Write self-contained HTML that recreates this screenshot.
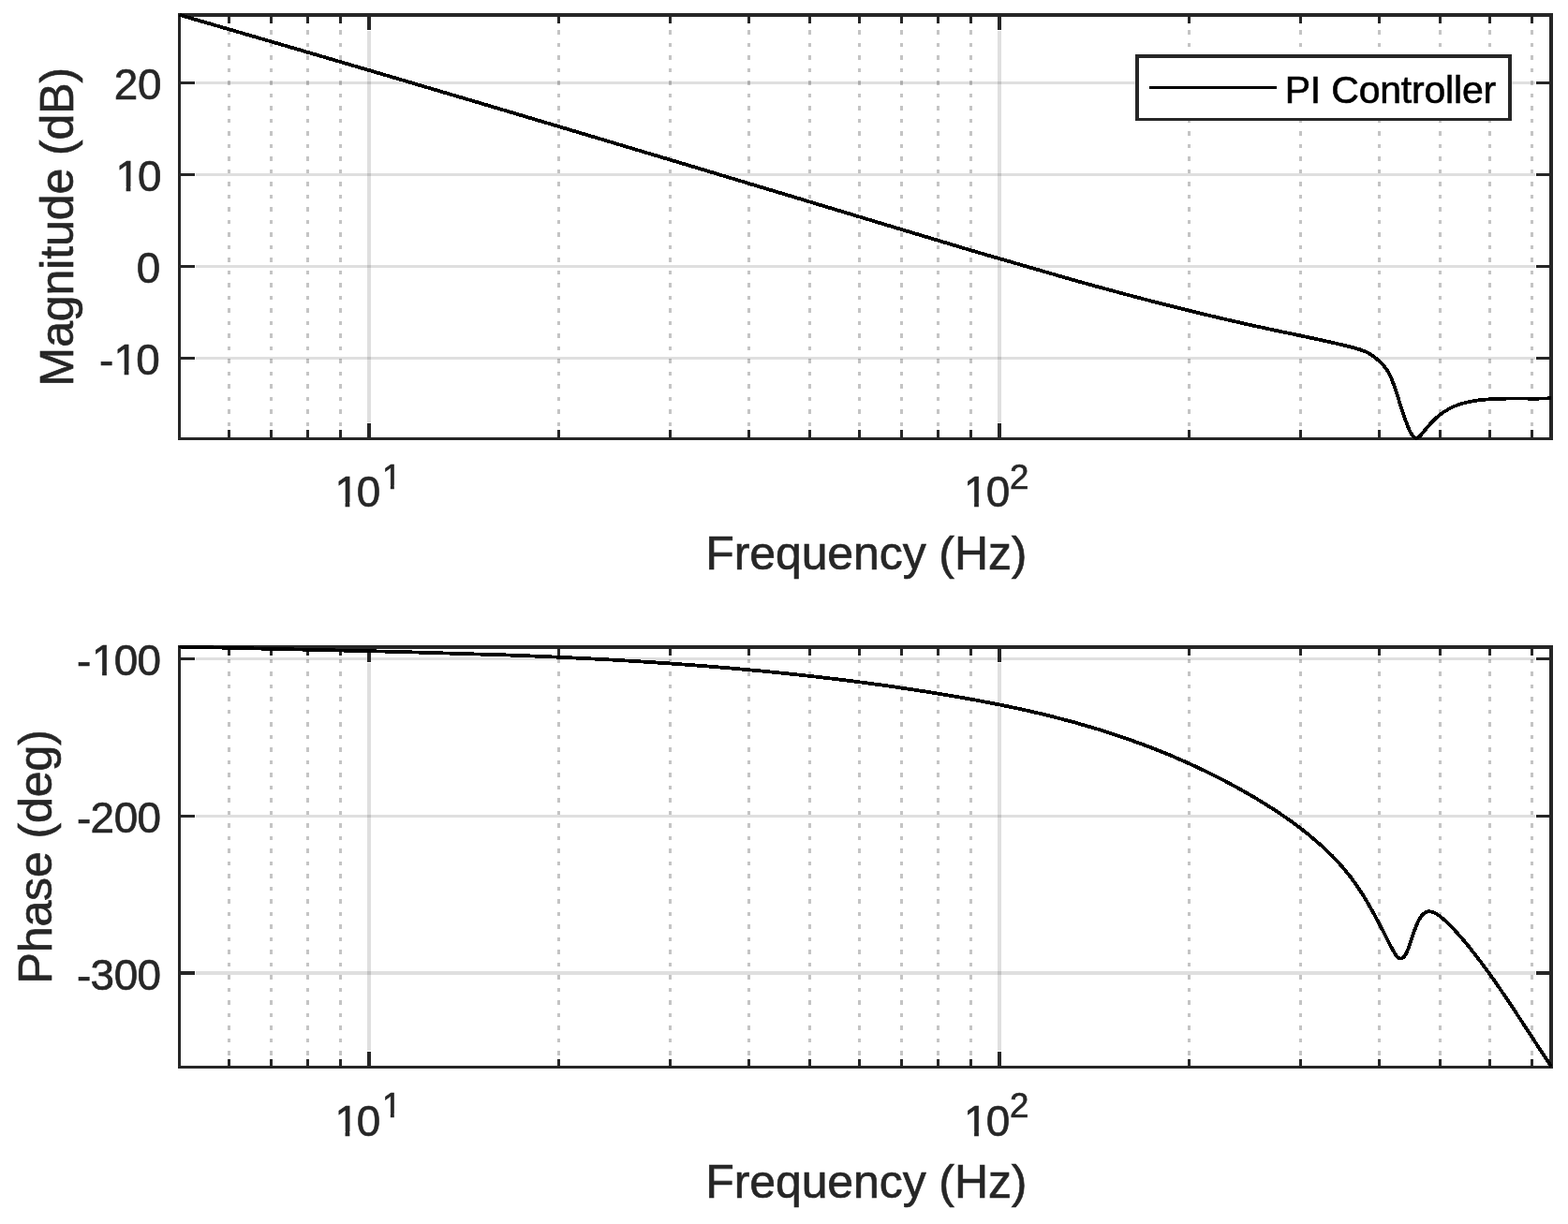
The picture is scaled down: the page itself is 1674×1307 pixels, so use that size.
<!DOCTYPE html>
<html lang="en">
<head>
<meta charset="utf-8">
<title>Bode plot - PI Controller</title>
<style>
html, body { margin: 0; padding: 0; background: #ffffff; }
body { width: 1674px; height: 1307px; overflow: hidden; }
svg { display: block; font-family: "Liberation Sans", sans-serif; }
text { white-space: pre; }
</style>
</head>
<body>
<svg width="1674" height="1307" viewBox="0 0 1674 1307">
<rect x="0" y="0" width="1674" height="1307" fill="#ffffff"/>
<g id="ax-magnitude">
<g class="grid-minor" stroke="#262626" stroke-opacity="0.27" stroke-width="3" stroke-dasharray="4.5 9" shape-rendering="crispEdges">
<line x1="244.5" y1="468.75" x2="244.5" y2="16"/>
<line x1="289.5" y1="468.75" x2="289.5" y2="16"/>
<line x1="328.5" y1="468.75" x2="328.5" y2="16"/>
<line x1="363.5" y1="468.75" x2="363.5" y2="16"/>
<line x1="596.5" y1="468.75" x2="596.5" y2="16"/>
<line x1="715.5" y1="468.75" x2="715.5" y2="16"/>
<line x1="799.5" y1="468.75" x2="799.5" y2="16"/>
<line x1="864.5" y1="468.75" x2="864.5" y2="16"/>
<line x1="917.5" y1="468.75" x2="917.5" y2="16"/>
<line x1="962.5" y1="468.75" x2="962.5" y2="16"/>
<line x1="1001.5" y1="468.75" x2="1001.5" y2="16"/>
<line x1="1036.5" y1="468.75" x2="1036.5" y2="16"/>
<line x1="1269.5" y1="468.75" x2="1269.5" y2="16"/>
<line x1="1388.5" y1="468.75" x2="1388.5" y2="16"/>
<line x1="1472.5" y1="468.75" x2="1472.5" y2="16"/>
<line x1="1537.5" y1="468.75" x2="1537.5" y2="16"/>
<line x1="1590.5" y1="468.75" x2="1590.5" y2="16"/>
<line x1="1635.5" y1="468.75" x2="1635.5" y2="16"/>
</g>
<g class="grid-major" fill="#262626" fill-opacity="0.15">
<rect x="392" y="33" width="4" height="418"/>
<rect x="1065" y="33" width="4" height="418"/>
<rect x="209" y="87" width="1430" height="3"/>
<rect x="209" y="185" width="1430" height="3"/>
<rect x="209" y="283" width="1430" height="3"/>
<rect x="209" y="381" width="1430" height="3"/>
</g>
<g class="box" fill="#262626">
<rect x="190" y="14" width="3" height="456"/>
<rect x="1654" y="14" width="4" height="456"/>
<rect x="190" y="14" width="1468" height="4"/>
<rect x="190" y="467" width="1468" height="3"/>
</g>
<g class="ticks" fill="#262626">
<rect x="243" y="459" width="3" height="8"/>
<rect x="243" y="18" width="3" height="7"/>
<rect x="288" y="459" width="3" height="8"/>
<rect x="288" y="18" width="3" height="7"/>
<rect x="327" y="459" width="3" height="8"/>
<rect x="327" y="18" width="3" height="7"/>
<rect x="362" y="459" width="3" height="8"/>
<rect x="362" y="18" width="3" height="7"/>
<rect x="595" y="459" width="3" height="8"/>
<rect x="595" y="18" width="3" height="7"/>
<rect x="714" y="459" width="3" height="8"/>
<rect x="714" y="18" width="3" height="7"/>
<rect x="798" y="459" width="3" height="8"/>
<rect x="798" y="18" width="3" height="7"/>
<rect x="863" y="459" width="3" height="8"/>
<rect x="863" y="18" width="3" height="7"/>
<rect x="916" y="459" width="3" height="8"/>
<rect x="916" y="18" width="3" height="7"/>
<rect x="961" y="459" width="3" height="8"/>
<rect x="961" y="18" width="3" height="7"/>
<rect x="1000" y="459" width="3" height="8"/>
<rect x="1000" y="18" width="3" height="7"/>
<rect x="1035" y="459" width="3" height="8"/>
<rect x="1035" y="18" width="3" height="7"/>
<rect x="1268" y="459" width="3" height="8"/>
<rect x="1268" y="18" width="3" height="7"/>
<rect x="1387" y="459" width="3" height="8"/>
<rect x="1387" y="18" width="3" height="7"/>
<rect x="1471" y="459" width="3" height="8"/>
<rect x="1471" y="18" width="3" height="7"/>
<rect x="1536" y="459" width="3" height="8"/>
<rect x="1536" y="18" width="3" height="7"/>
<rect x="1589" y="459" width="3" height="8"/>
<rect x="1589" y="18" width="3" height="7"/>
<rect x="1634" y="459" width="3" height="8"/>
<rect x="1634" y="18" width="3" height="7"/>
<rect x="392" y="452" width="4" height="15"/>
<rect x="392" y="18" width="4" height="14"/>
<rect x="1065" y="452" width="4" height="15"/>
<rect x="1065" y="18" width="4" height="14"/>
<rect x="193" y="87" width="15" height="3"/>
<rect x="1640" y="87" width="14" height="3"/>
<rect x="193" y="185" width="15" height="3"/>
<rect x="1640" y="185" width="14" height="3"/>
<rect x="193" y="283" width="15" height="3"/>
<rect x="1640" y="283" width="14" height="3"/>
<rect x="193" y="381" width="15" height="3"/>
<rect x="1640" y="381" width="14" height="3"/>
</g>
<clipPath id="clipMag"><rect x="190" y="14" width="1468" height="456"/></clipPath>
<path class="curve" d="M191.50,15.88 C226.67,26.07 261.83,36.30 297.00,46.58 C332.17,56.86 367.33,67.18 402.50,77.54 C437.67,87.91 472.83,98.31 508.00,108.74 C543.17,119.18 578.33,129.64 613.50,140.14 C648.67,150.64 683.83,161.17 719.00,171.72 C754.17,182.27 789.33,192.84 824.50,203.44 C859.67,214.03 894.83,224.65 930.00,235.27 C965.77,246.08 1001.53,256.91 1037.30,267.54 C1073.07,278.17 1108.83,288.60 1144.60,298.63 C1180.37,308.66 1216.13,318.29 1251.90,327.31 C1287.67,336.32 1323.43,344.73 1359.20,352.31 C1387.73,358.36 1416.27,363.89 1444.80,371.20 C1451.17,372.83 1457.53,374.55 1463.90,378.75 C1467.10,380.87 1470.30,383.61 1473.50,386.60 C1475.87,388.81 1478.23,391.15 1480.60,394.78 C1482.20,397.23 1483.80,400.27 1485.40,404.06 C1487.57,409.19 1489.73,415.69 1491.90,422.43 C1495.83,434.67 1499.77,447.73 1503.70,456.94 C1506.40,463.26 1509.10,467.77 1511.80,467.93 C1513.07,468.01 1514.33,467.12 1515.60,465.92 C1517.20,464.40 1518.80,462.38 1520.40,460.41 C1523.60,456.45 1526.80,452.69 1530.00,449.43 C1543.70,435.51 1557.40,431.00 1571.10,428.50 C1599.40,423.32 1627.70,426.69 1656.00,425.28" fill="none" stroke="#000000" stroke-width="3.8" stroke-linejoin="round" stroke-linecap="butt" shape-rendering="crispEdges" clip-path="url(#clipMag)"/>
<g class="ticklabels" fill="#262626" stroke="#262626" stroke-width="0.65" font-size="45.83px">
<text x="121.68 147.12" y="106">20</text>
<text x="123.47 147.12" y="204">10</text>
<text x="145.73" y="302">0</text>
<text x="105.94 121.49 145.33" y="400" dy="1.3 -1.3">-10</text>
<text x="357.41 380.8" y="541">10<tspan x="407.98" y="522" font-size="36.67px">1</tspan></text>
<text x="1028.95 1052.8" y="541">10<tspan x="1077.99" y="522" font-size="36.67px">2</tspan></text>
</g>
<g class="axislabels" fill="#262626" stroke="#262626" stroke-width="0.65" font-size="50.0px" letter-spacing="-0.1" text-anchor="middle">
<text x="924.8" y="608">Frequency (Hz)</text>
<text transform="translate(78,242.2) rotate(-90)">Magnitude (dB)</text>
</g>
</g>
<g id="ax-phase">
<g class="grid-minor" stroke="#262626" stroke-opacity="0.27" stroke-width="3" stroke-dasharray="4.5 9" shape-rendering="crispEdges">
<line x1="244.5" y1="1140.25" x2="244.5" y2="691"/>
<line x1="289.5" y1="1140.25" x2="289.5" y2="691"/>
<line x1="328.5" y1="1140.25" x2="328.5" y2="691"/>
<line x1="363.5" y1="1140.25" x2="363.5" y2="691"/>
<line x1="596.5" y1="1140.25" x2="596.5" y2="691"/>
<line x1="715.5" y1="1140.25" x2="715.5" y2="691"/>
<line x1="799.5" y1="1140.25" x2="799.5" y2="691"/>
<line x1="864.5" y1="1140.25" x2="864.5" y2="691"/>
<line x1="917.5" y1="1140.25" x2="917.5" y2="691"/>
<line x1="962.5" y1="1140.25" x2="962.5" y2="691"/>
<line x1="1001.5" y1="1140.25" x2="1001.5" y2="691"/>
<line x1="1036.5" y1="1140.25" x2="1036.5" y2="691"/>
<line x1="1269.5" y1="1140.25" x2="1269.5" y2="691"/>
<line x1="1388.5" y1="1140.25" x2="1388.5" y2="691"/>
<line x1="1472.5" y1="1140.25" x2="1472.5" y2="691"/>
<line x1="1537.5" y1="1140.25" x2="1537.5" y2="691"/>
<line x1="1590.5" y1="1140.25" x2="1590.5" y2="691"/>
<line x1="1635.5" y1="1140.25" x2="1635.5" y2="691"/>
</g>
<g class="grid-major" fill="#262626" fill-opacity="0.15">
<rect x="392" y="708" width="4" height="414"/>
<rect x="1065" y="708" width="4" height="414"/>
<rect x="209" y="702" width="1430" height="3"/>
<rect x="209" y="870" width="1430" height="3"/>
<rect x="209" y="1037" width="1430" height="4"/>
</g>
<g class="box" fill="#262626">
<rect x="190" y="689" width="3" height="452"/>
<rect x="1654" y="689" width="4" height="452"/>
<rect x="190" y="689" width="1468" height="4"/>
<rect x="190" y="1138" width="1468" height="3"/>
</g>
<g class="ticks" fill="#262626">
<rect x="243" y="1131" width="3" height="7"/>
<rect x="243" y="693" width="3" height="7"/>
<rect x="288" y="1131" width="3" height="7"/>
<rect x="288" y="693" width="3" height="7"/>
<rect x="327" y="1131" width="3" height="7"/>
<rect x="327" y="693" width="3" height="7"/>
<rect x="362" y="1131" width="3" height="7"/>
<rect x="362" y="693" width="3" height="7"/>
<rect x="595" y="1131" width="3" height="7"/>
<rect x="595" y="693" width="3" height="7"/>
<rect x="714" y="1131" width="3" height="7"/>
<rect x="714" y="693" width="3" height="7"/>
<rect x="798" y="1131" width="3" height="7"/>
<rect x="798" y="693" width="3" height="7"/>
<rect x="863" y="1131" width="3" height="7"/>
<rect x="863" y="693" width="3" height="7"/>
<rect x="916" y="1131" width="3" height="7"/>
<rect x="916" y="693" width="3" height="7"/>
<rect x="961" y="1131" width="3" height="7"/>
<rect x="961" y="693" width="3" height="7"/>
<rect x="1000" y="1131" width="3" height="7"/>
<rect x="1000" y="693" width="3" height="7"/>
<rect x="1035" y="1131" width="3" height="7"/>
<rect x="1035" y="693" width="3" height="7"/>
<rect x="1268" y="1131" width="3" height="7"/>
<rect x="1268" y="693" width="3" height="7"/>
<rect x="1387" y="1131" width="3" height="7"/>
<rect x="1387" y="693" width="3" height="7"/>
<rect x="1471" y="1131" width="3" height="7"/>
<rect x="1471" y="693" width="3" height="7"/>
<rect x="1536" y="1131" width="3" height="7"/>
<rect x="1536" y="693" width="3" height="7"/>
<rect x="1589" y="1131" width="3" height="7"/>
<rect x="1589" y="693" width="3" height="7"/>
<rect x="1634" y="1131" width="3" height="7"/>
<rect x="1634" y="693" width="3" height="7"/>
<rect x="392" y="1123" width="4" height="15"/>
<rect x="392" y="693" width="4" height="14"/>
<rect x="1065" y="1123" width="4" height="15"/>
<rect x="1065" y="693" width="4" height="14"/>
<rect x="193" y="702" width="15" height="3"/>
<rect x="1640" y="702" width="14" height="3"/>
<rect x="193" y="870" width="15" height="3"/>
<rect x="1640" y="870" width="14" height="3"/>
<rect x="193" y="1037" width="15" height="4"/>
<rect x="1640" y="1037" width="14" height="4"/>
</g>
<clipPath id="clipPh"><rect x="190" y="689" width="1468" height="452"/></clipPath>
<path class="curve" d="M191.50,690.55 C230.09,691.57 268.68,692.42 307.27,693.26 C345.86,694.10 384.45,694.92 423.04,695.89 C461.63,696.86 500.22,697.97 538.81,699.38 C577.40,700.79 616.00,702.50 654.59,704.66 C693.18,706.83 731.77,709.45 770.36,712.68 C808.95,715.92 847.54,719.76 886.13,724.38 C924.72,728.99 963.31,734.38 1001.90,740.68 C1039.47,746.82 1077.03,753.84 1114.60,762.93 C1152.17,772.02 1189.73,783.19 1227.30,797.62 C1264.87,812.06 1302.43,829.77 1340.00,851.94 C1363.87,866.03 1387.73,881.92 1411.60,903.66 C1424.40,915.32 1437.20,928.66 1450.00,947.74 C1459.70,962.20 1469.40,979.95 1479.10,999.17 C1481.50,1003.93 1483.90,1008.78 1486.30,1013.23 C1487.90,1016.21 1489.50,1019.01 1491.10,1020.89 C1494.43,1024.81 1497.77,1024.75 1501.10,1018.48 C1504.30,1012.47 1507.50,1000.73 1510.70,992.06 C1513.70,983.93 1516.70,978.50 1519.70,975.65 C1524.17,971.41 1528.63,972.90 1533.10,975.57 C1539.07,979.15 1545.03,984.84 1551.00,991.13 C1586.07,1028.13 1621.13,1085.95 1656.20,1139.00" fill="none" stroke="#000000" stroke-width="3.8" stroke-linejoin="round" stroke-linecap="butt" shape-rendering="crispEdges" clip-path="url(#clipPh)"/>
<g class="ticklabels" fill="#262626" stroke="#262626" stroke-width="0.65" font-size="45.83px">
<text x="81.9 97.94 121.73 146.61" y="721" dy="1.3 -1.3">-100</text>
<text x="81.9 96.39 121.73 146.61" y="889" dy="1.3 -1.3">-200</text>
<text x="81.9 96.53 121.73 146.61" y="1057" dy="1.3 -1.3">-300</text>
<text x="357.41 380.8" y="1213">10<tspan x="407.98" y="1193" font-size="36.67px">1</tspan></text>
<text x="1028.95 1052.8" y="1213">10<tspan x="1077.99" y="1193" font-size="36.67px">2</tspan></text>
</g>
<g class="axislabels" fill="#262626" stroke="#262626" stroke-width="0.65" font-size="50.0px" letter-spacing="-0.1" text-anchor="middle">
<text x="924.8" y="1279">Frequency (Hz)</text>
<text transform="translate(55,914.9) rotate(-90)">Phase (deg)</text>
</g>
</g>
<g id="glyph-trim" fill="#ffffff">
<rect x="125.46" y="199" width="9.16" height="7"/>
<rect x="139.42" y="199" width="8.8" height="7"/>
<rect x="123.48" y="395" width="9.16" height="7"/>
<rect x="137.44" y="395" width="8.8" height="7"/>
<rect x="359.4" y="536" width="9.16" height="7"/>
<rect x="373.36" y="536" width="8.8" height="7"/>
<rect x="409.27" y="518" width="7.55" height="6"/>
<rect x="420.81" y="518" width="7.27" height="6"/>
<rect x="1030.94" y="536" width="9.16" height="7"/>
<rect x="1044.9" y="536" width="8.8" height="7"/>
<rect x="99.93" y="716" width="9.16" height="7"/>
<rect x="113.89" y="716" width="8.8" height="7"/>
<rect x="359.4" y="1208" width="9.16" height="7"/>
<rect x="373.36" y="1208" width="8.8" height="7"/>
<rect x="409.27" y="1189" width="7.55" height="6"/>
<rect x="420.81" y="1189" width="7.27" height="6"/>
<rect x="1030.94" y="1208" width="9.16" height="7"/>
<rect x="1044.9" y="1208" width="8.8" height="7"/>
</g>
<g id="legend">
<rect x="1212" y="58" width="402" height="71" fill="#ffffff"/>
<g class="legend-box" fill="#262626">
<rect x="1212" y="58" width="402" height="4"/>
<rect x="1212" y="126" width="402" height="3"/>
<rect x="1212" y="58" width="4" height="71"/>
<rect x="1610" y="58" width="4" height="71"/>
</g>
<rect x="1227" y="92" width="136" height="3" fill="#000000"/>
<text x="1371.7" y="110" font-size="41.0px" letter-spacing="-0.2" fill="#000000" stroke="#000000" stroke-width="0.6">PI Controller</text>
</g>
</svg>
</body>
</html>
